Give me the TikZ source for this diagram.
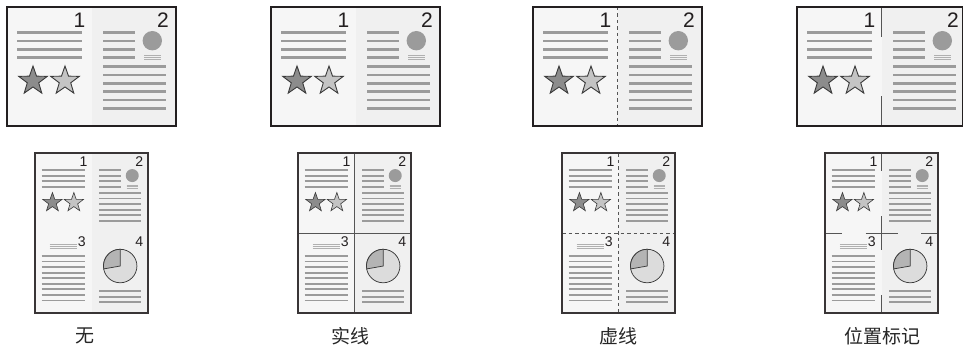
\documentclass[tikz,border=0pt]{standalone}
\usepackage{fontspec}
\setmainfont{Liberation Sans}
\newfontfamily\cjk{Noto Sans CJK SC}
\definecolor{pfillA}{HTML}{F6F6F6}
\definecolor{pfillB}{HTML}{F0F0F0}
\definecolor{txl}{HTML}{9B9B9B}
\definecolor{lighttx}{HTML}{B0B0B0}
\definecolor{starA}{HTML}{8C8C8C}
\definecolor{starB}{HTML}{C4C4C4}
\definecolor{outl}{HTML}{3A3A3A}
\definecolor{pieA}{HTML}{B4B4B4}
\definecolor{pieB}{HTML}{DCDCDC}
\definecolor{divc}{HTML}{555555}
\definecolor{frm}{HTML}{231F20}
\tikzset{
  digit/.style={inner sep=0pt, font=\fontsize{21}{21}\selectfont, text=frm, transform shape},
  lbl/.style={font=\cjk\fontsize{19}{19}\selectfont, text=black!85, inner sep=0pt},
  topframe/.style={draw=frm, line width=1.4pt},
  botframe/.style={draw=frm!90, line width=1.2pt},
  divline/.style={draw=divc, line width=1pt},
  dashdiv/.style={draw=divc, line width=1pt, dash pattern=on 3.5pt off 3pt},
}
\newcommand\mystar[4]{%
  \begin{scope}[shift={(#1,#2)}]
    \filldraw[fill=#3, draw=outl, line width=#4*0.9pt, line join=miter]
      (-90:15) -- (-54:6) -- (-18:15) -- (18:6) -- (54:15) -- (90:6) --
      (126:15) -- (162:6) -- (198:15) -- (234:6) -- cycle;
  \end{scope}}
\newcommand\pgA[3]{%
  \begin{scope}[shift={(#1,#2)}, scale=#3]
    \node[digit, anchor=north east] (dA) at (78.5,6) {1};
    \foreach \yy in {25.7,34,42.3,50.7}{\draw[draw=txl, line width=#3*2.7pt] (10,\yy) -- (75,\yy);}
    \mystar{26}{74}{starA}{#3}
    \mystar{58}{74}{starB}{#3}
  \end{scope}}
\newcommand\pgB[3]{%
  \begin{scope}[shift={(#1,#2)}, scale=#3]
    \node[digit, anchor=north east] (dB) at (77.5,6) {2};
    \foreach \yy in {25.7,34,42.3,50.7}{\draw[draw=txl, line width=#3*2.7pt] (11.5,\yy) -- (43.5,\yy);}
    \fill[txl] (60.8,33.7) circle (9.7);
    \foreach \yy in {48,50.3,52.7}{\draw[draw=lighttx, line width=#3*0.9pt] (52.5,\yy) -- (69.5,\yy);}
    \foreach \k in {0,...,5}{\draw[draw=txl, line width=#3*2.7pt] (11.5,59.7+8.35*\k) -- (74.5,59.7+8.35*\k);}
  \end{scope}}
\newcommand\pgC[3]{%
  \begin{scope}[shift={(#1,#2)}, scale=#3]
    \node[digit, anchor=north east] (dC) at (76,6) {3};
    \foreach \yy in {17.5,20,22.5}{\draw[draw=lighttx, line width=#3*0.9pt] (22,\yy) -- (63,\yy);}
    \foreach \k in {0,...,8}{\draw[draw=txl, line width=#3*2.7pt] (10,34.3+8.3*\k) -- (75,34.3+8.3*\k);}
  \end{scope}}
\newcommand\pgD[3]{%
  \begin{scope}[shift={(#1,#2)}, scale=#3]
    \node[digit, anchor=north east] (dD) at (77.5,6) {4};
    \filldraw[fill=pieB, draw=outl, line width=#3*1.1pt] (42.8,49.3) circle (25);
    \filldraw[fill=pieA, draw=outl, line width=#3*1.1pt] (42.8,49.3) -- ++(170:25) arc[start angle=170, end angle=270, radius=25] -- cycle;
    \foreach \k in {0,...,2}{\draw[draw=txl, line width=#3*2.7pt] (11.5,86.7+8.3*\k) -- (74.5,86.7+8.3*\k);}
  \end{scope}}
\newcommand\toppanel[2]{%
  \fill[pfillA] (#1,7) rectangle (#1+84.5,126);
  \fill[pfillB] (#1+84.5,7) rectangle (#1+#2,126);
  \pgA{#1}{7}{1}
  \pgB{#1+84.5}{7}{1}}
\newcommand\botpanel[1]{%
  \fill[pfillA] (#1,153) rectangle (#1+56.5,313);
  \fill[pfillB] (#1+56.5,153) rectangle (#1+113,313);
  \pgA{#1}{153}{0.67}
  \pgB{#1+56.5}{153}{0.67}
  \pgC{#1}{233}{0.67}
  \pgD{#1+56.5}{233}{0.67}}
\begin{document}
\begin{tikzpicture}[x=1pt, y=-1pt]
  \useasboundingbox (0,0) rectangle (963,353);
  \fill[white] (0,0) rectangle (963,353);
  % panel 1: none
  \toppanel{7}{169}
  \draw[topframe] (7,7) rectangle (176,126);
  \botpanel{35}
  \draw[botframe] (35,153) rectangle (148,313);
  % panel 2: solid
  \toppanel{271}{169}
  \draw[topframe] (271,7) rectangle (440,126);
  \botpanel{298}
  \draw[divline] (354.5,153) -- (354.5,313);
  \draw[divline] (298,233) -- (411,233);
  \draw[botframe] (298,153) rectangle (411,313);
  % panel 3: dashed
  \toppanel{533}{169}
  \draw[dashdiv] (617.5,7) -- (617.5,126);
  \draw[topframe] (533,7) rectangle (702,126);
  \botpanel{562}
  \draw[dashdiv] (618.5,153) -- (618.5,313);
  \draw[dashdiv] (562,233) -- (675,233);
  \draw[botframe] (562,153) rectangle (675,313);
  % panel 4: position marks
  \toppanel{797}{165.3}
  \draw[divline, line width=1.4pt] (881.5,7) -- (881.5,37);
  \draw[divline, line width=1.4pt] (881.5,96) -- (881.5,126);
  \draw[topframe] (797,7) rectangle (962.3,126);
  \botpanel{825}
  \draw[divline] (881.5,153) -- (881.5,171);
  \draw[divline] (881.5,216) -- (881.5,250);
  \draw[divline] (881.5,295) -- (881.5,313);
  \draw[divline] (825,233) -- (842,233);
  \draw[divline] (865.5,233) -- (897.5,233);
  \draw[divline] (921,233) -- (938,233);
  \draw[botframe] (825,153) rectangle (938,313);
  % labels
  \node[lbl] (l1) at (85,336) {无};
  \node[lbl] (l2) at (350,336) {实线};
  \node[lbl] (l3) at (618,336) {虚线};
  \node[lbl] (l4) at (882,336) {位置标记};
\end{tikzpicture}
\end{document}
